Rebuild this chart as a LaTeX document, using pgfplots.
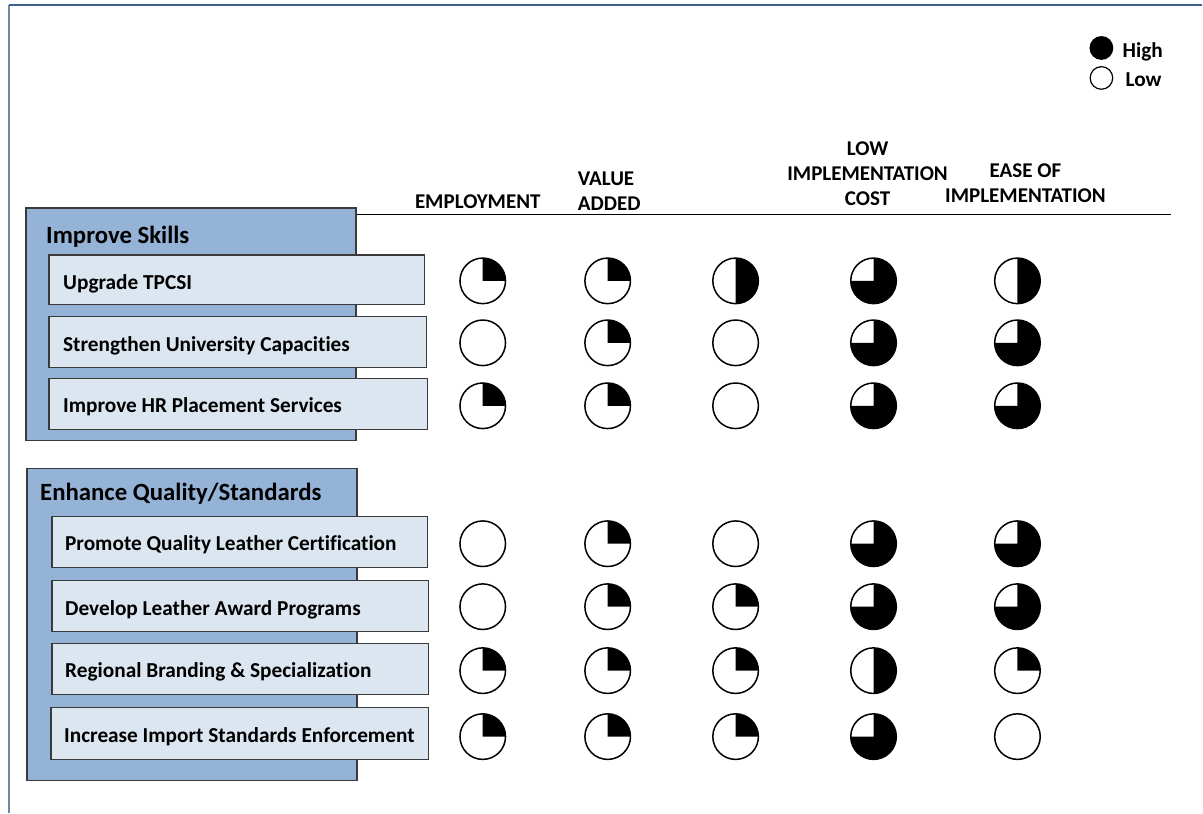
\documentclass[border=0pt]{standalone}
\usepackage{fontspec}
\setmainfont{Carlito}[Ligatures=NoCommon]
\usepackage{pgfplots}
\pgfplotsset{compat=1.18}
\usepackage{pgfplotstable}

\definecolor{grpfill}{HTML}{95B3D7}
\definecolor{itemfill}{HTML}{DCE6F1}
\definecolor{boxline}{HTML}{3A3A3A}
\definecolor{frameA}{HTML}{6D87AB}
\definecolor{frameB}{HTML}{3F5F8C}

% Harvey ball marks: fraction filled clockwise from 12 o'clock
\pgfdeclareplotmark{hb0}{%
  \pgfpathcircle{\pgfpointorigin}{\pgfplotmarksize}\pgfsetfillcolor{white}\pgfusepath{fill,stroke}}
\pgfdeclareplotmark{hb25}{%
  \pgfpathcircle{\pgfpointorigin}{\pgfplotmarksize}\pgfsetfillcolor{white}\pgfusepath{fill}%
  \pgfpathmoveto{\pgfpointorigin}\pgfpathlineto{\pgfpoint{0pt}{\pgfplotmarksize}}%
  \pgfpatharc{90}{0}{\pgfplotmarksize}\pgfpathclose\pgfsetfillcolor{black}\pgfusepath{fill}%
  \pgfpathcircle{\pgfpointorigin}{\pgfplotmarksize}\pgfusepath{stroke}}
\pgfdeclareplotmark{hb50}{%
  \pgfpathcircle{\pgfpointorigin}{\pgfplotmarksize}\pgfsetfillcolor{white}\pgfusepath{fill}%
  \pgfpathmoveto{\pgfpointorigin}\pgfpathlineto{\pgfpoint{0pt}{\pgfplotmarksize}}%
  \pgfpatharc{90}{-90}{\pgfplotmarksize}\pgfpathclose\pgfsetfillcolor{black}\pgfusepath{fill}%
  \pgfpathcircle{\pgfpointorigin}{\pgfplotmarksize}\pgfusepath{stroke}}
\pgfdeclareplotmark{hb75}{%
  \pgfpathcircle{\pgfpointorigin}{\pgfplotmarksize}\pgfsetfillcolor{white}\pgfusepath{fill}%
  \pgfpathmoveto{\pgfpointorigin}\pgfpathlineto{\pgfpoint{0pt}{\pgfplotmarksize}}%
  \pgfpatharc{90}{-180}{\pgfplotmarksize}\pgfpathclose\pgfsetfillcolor{black}\pgfusepath{fill}%
  \pgfpathcircle{\pgfpointorigin}{\pgfplotmarksize}\pgfusepath{stroke}}
\pgfdeclareplotmark{hb100}{%
  \pgfpathcircle{\pgfpointorigin}{\pgfplotmarksize}\pgfsetfillcolor{black}\pgfusepath{fill,stroke}}

% x = column centre, y = row centre (pixels from top), v = fill class
\pgfplotstableread{
x y v
483 281 q25
608 281 q25
736 281 q50
874 281 q75
1018 281 q50
483 343 q0
608 343 q25
736 343 q0
874 343 q75
1018 343 q75
483 406 q25
608 406 q25
736 406 q0
874 406 q75
1018 406 q75
483 544 q0
608 544 q25
736 544 q0
874 544 q75
1018 544 q75
483 607 q0
608 607 q25
736 607 q25
874 607 q75
1018 607 q75
483 671 q25
608 671 q25
736 671 q25
874 671 q50
1018 671 q25
483 737 q25
608 737 q25
736 737 q25
874 737 q75
1018 737 q0
}\balls

\pgfplotstableread{
x y v
1102 48 q100
1102 78 q0
}\legendballs

\begin{document}
\begin{tikzpicture}
\begin{axis}[
  scale only axis, width=1203pt, height=813pt,
  xmin=0, xmax=1203, ymin=0, ymax=813, y dir=reverse,
  hide axis, clip=false,
  scatter/classes={
    q0={mark=hb0, black},
    q25={mark=hb25, black},
    q50={mark=hb50, black},
    q75={mark=hb75, black},
    q100={mark=hb100, black}},
]
\path (axis cs:0,0) rectangle (axis cs:1203,813);
% slide frame
\draw[frameA, line width=2.2pt] (axis cs:9,5) -- (axis cs:9,813);
\draw[frameB, line width=1.3pt] (axis cs:9,5) -- (axis cs:1203,5);

% group boxes
\draw[boxline, fill=grpfill, line width=1.4pt] (axis cs:26,208) rectangle (axis cs:356,441);
\draw[boxline, fill=grpfill, line width=1.4pt] (axis cs:27,469) rectangle (axis cs:357,781);

% item boxes
\draw[boxline, fill=itemfill, line width=1.3pt] (axis cs:49,255) rectangle (axis cs:425,305);
\draw[boxline, fill=itemfill, line width=1.3pt] (axis cs:49,317) rectangle (axis cs:427,368);
\draw[boxline, fill=itemfill, line width=1.3pt] (axis cs:49,379) rectangle (axis cs:428,430);
\draw[boxline, fill=itemfill, line width=1.3pt] (axis cs:52,517) rectangle (axis cs:428,568);
\draw[boxline, fill=itemfill, line width=1.3pt] (axis cs:52,581) rectangle (axis cs:429,632);
\draw[boxline, fill=itemfill, line width=1.3pt] (axis cs:52,644) rectangle (axis cs:429,695);
\draw[boxline, fill=itemfill, line width=1.3pt] (axis cs:51,708) rectangle (axis cs:429,760);

% texts
\begin{scope}[every node/.style={inner sep=0pt, font=\fontsize{21.3}{25}\selectfont\bfseries}]
\node[anchor=base west, font=\fontsize{24.8}{28}\selectfont\bfseries] at (axis cs:46,244) {Improve Skills};
\node[anchor=base west] at (axis cs:63,290) {Upgrade TPCSI};
\node[anchor=base west] at (axis cs:63,352) {Strengthen University Capacities};
\node[anchor=base west] at (axis cs:63,413) {Improve HR Placement Services};
\node[anchor=base west, font=\fontsize{24.8}{28}\selectfont\bfseries] at (axis cs:40,501) {Enhance Quality/Standards};
\node[anchor=base west] at (axis cs:65,551) {Promote Quality Leather Certification};
\node[anchor=base west] at (axis cs:65,616) {Develop Leather Award Programs};
\node[anchor=base west] at (axis cs:65,678) {Regional Branding \& Specialization};
\node[anchor=base west] at (axis cs:64,743) {Increase Import Standards Enforcement};
% headers
\node[anchor=base, font=\fontsize{21}{25}\selectfont\bfseries] at (axis cs:478,209) {EMPLOYMENT};
\node[anchor=base west, font=\fontsize{21}{25}\selectfont\bfseries] at (axis cs:578,186) {VALUE};
\node[anchor=base west, font=\fontsize{21}{25}\selectfont\bfseries] at (axis cs:578,211) {ADDED};
\node[anchor=base, font=\fontsize{21}{25}\selectfont\bfseries] at (axis cs:868,156) {LOW};
\node[anchor=base, font=\fontsize{21}{25}\selectfont\bfseries] at (axis cs:868,181) {IMPLEMENTATION};
\node[anchor=base, font=\fontsize{21}{25}\selectfont\bfseries] at (axis cs:868,206) {COST};
\node[anchor=base, font=\fontsize{21}{25}\selectfont\bfseries] at (axis cs:1026,178) {EASE OF};
\node[anchor=base, font=\fontsize{21}{25}\selectfont\bfseries] at (axis cs:1026,203) {IMPLEMENTATION};
% legend text
\node[anchor=base west] at (axis cs:1123,58) {High};
\node[anchor=base west] at (axis cs:1126,87) {Low};
\end{scope}

% header rule
\draw[black, line width=1pt] (axis cs:357,215) -- (axis cs:1172,215);

% harvey balls
\addplot[scatter, only marks, mark size=22.8pt, line width=1.5pt,
  scatter src=explicit symbolic] table[x=x, y=y, meta=v] {\balls};
% legend balls
\addplot[scatter, only marks, mark size=11.3pt, line width=1.2pt,
  scatter src=explicit symbolic] table[x=x, y=y, meta=v] {\legendballs};
\end{axis}
\end{tikzpicture}
\end{document}
